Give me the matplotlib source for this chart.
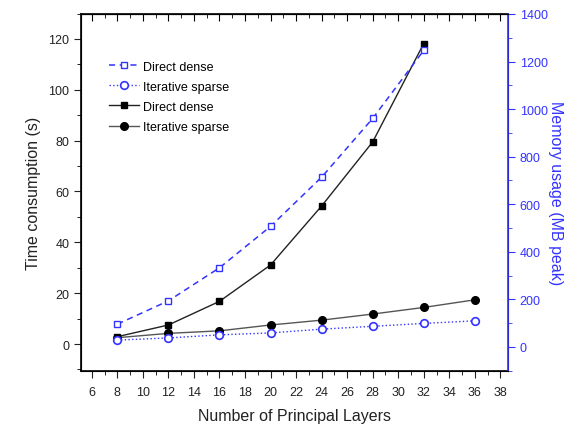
import matplotlib
matplotlib.use('Agg')
import matplotlib.pyplot as plt
from matplotlib.ticker import MultipleLocator

plt.rcParams['font.family'] = ['Liberation Sans', 'DejaVu Sans']

# data
layers_dense = [8, 12, 16, 20, 24, 28, 32]
layers_sparse = [8, 12, 16, 20, 24, 28, 32, 36]
time_dense = [2.9, 7.5, 16.8, 31.1, 54.3, 79.5, 118.2]
time_sparse = [2.5, 4.2, 5.2, 7.5, 9.4, 11.8, 14.4, 17.4]
mem_dense = [96, 194, 333, 507, 714, 961, 1247]
mem_sparse = [29, 38, 51, 59, 75, 87, 99, 110]

blue = '#3333ff'

fig = plt.figure(figsize=(5.72, 4.27), dpi=100)
ax = fig.add_axes([0.1416, 0.1288, 0.7465, 0.8372])
ax2 = ax.twinx()

# right axis (memory)
l1, = ax2.plot(layers_dense, mem_dense, '--', color=blue, lw=1.1,
               dashes=(4, 3), marker='s', ms=4.5, mfc='white', mec=blue,
               mew=1.0, label='Direct dense')
l2, = ax2.plot(layers_sparse, mem_sparse, ':', color=blue, lw=1.0,
               marker='o', ms=5.5, mfc='white', mec=blue, mew=1.2,
               label='Iterative sparse')

# left axis (time)
l3, = ax.plot(layers_dense, time_dense, '-', color='#222222', lw=1.0,
              marker='s', ms=4.5, mfc='black', mec='black',
              label='Direct dense')
l4, = ax.plot(layers_sparse, time_sparse, '-', color='#555555', lw=1.0,
              marker='o', ms=5.5, mfc='black', mec='black',
              label='Iterative sparse')

ax.set_xlim(5.15, 38.6)
ax.set_ylim(-10.6, 130)
ax2.set_ylim(-101, 1402)

ax.xaxis.set_major_locator(MultipleLocator(2))
ax.xaxis.set_minor_locator(MultipleLocator(1))
ax.yaxis.set_major_locator(MultipleLocator(20))
ax.yaxis.set_minor_locator(MultipleLocator(10))
ax2.yaxis.set_major_locator(MultipleLocator(200))
ax2.yaxis.set_minor_locator(MultipleLocator(100))

ax.tick_params(axis='both', which='major', direction='out', length=5,
               labelsize=9, colors='#222222', top=False)
ax.tick_params(axis='both', which='minor', direction='out', length=3,
               top=False)
ax.tick_params(axis='x', pad=6)
ax2.tick_params(axis='y', which='major', direction='out', length=5,
                labelsize=9, colors=blue)
ax2.tick_params(axis='y', which='minor', direction='out', length=3,
                colors=blue)

# top ticks point inward
top = ax.secondary_xaxis('top')
top.xaxis.set_major_locator(MultipleLocator(2))
top.xaxis.set_minor_locator(MultipleLocator(1))
top.tick_params(which='major', direction='in', length=5, labeltop=False)
top.tick_params(which='minor', direction='in', length=3)

for s in ['left', 'bottom', 'top']:
    ax.spines[s].set_linewidth(1.2)
ax2.spines['right'].set_color(blue)
ax2.spines['right'].set_linewidth(1.2)

ax.set_xlabel('Number of Principal Layers', fontsize=11.5, color='#222222',
              labelpad=7)
ax.set_ylabel('Time consumption (s)', fontsize=11.5, color='#222222',
              labelpad=5)
ax2.set_ylabel('Memory usage (MB peak)', fontsize=11.5, color=blue,
               rotation=270, labelpad=11)

ax2.legend(handles=[l1, l2, l3, l4], loc='upper left',
           bbox_to_anchor=(0.04, 0.9), frameon=False, fontsize=9,
           handlelength=2.4, handletextpad=0.3, labelspacing=0.65)

fig.savefig('out.png', dpi=100)
